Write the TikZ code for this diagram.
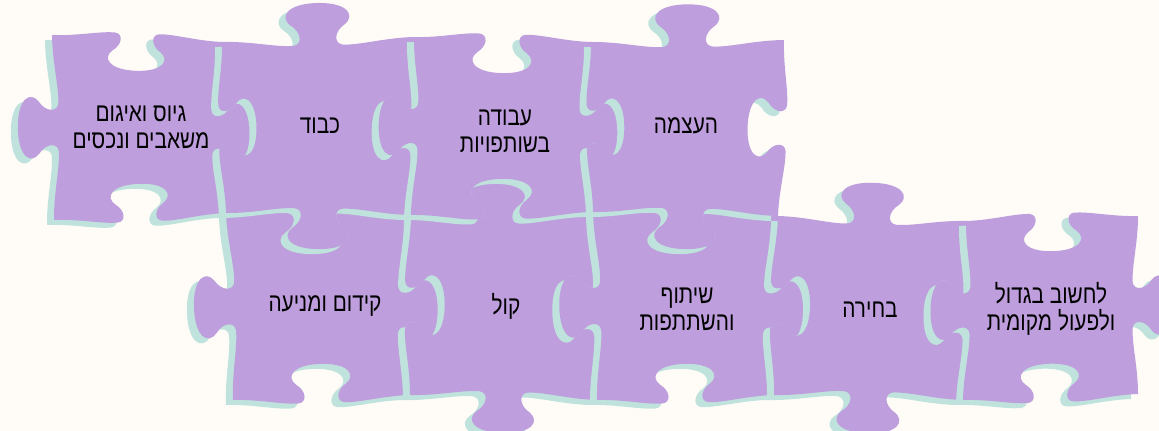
\documentclass[tikz,border=0pt]{standalone}
\usepackage{fontspec}
\newfontfamily\hebfont[Script=Hebrew,FakeStretch=0.8]{Liberation Sans}
\TeXXeTstate=1
\definecolor{bgc}{HTML}{FFFCF7}
\definecolor{piecec}{HTML}{BE9EDC}
\definecolor{shadowc}{HTML}{BFE3DC}
% point on an edge P=(#1,#2) -> Q=(#3,#4), sign #5, along #6, outward #7
\newcommand\JQ[7]{({#1+(#6)*(#3-#1)+(#7)*(#5)*(#4-#2)},{#2+(#6)*(#4-#2)-(#7)*(#5)*(#3-#1)})}
\newcommand\JE[5]{ .. controls \JQ{#1}{#2}{#3}{#4}{#5}{0.15}{0} and \JQ{#1}{#2}{#3}{#4}{#5}{0.28}{-0.035} .. \JQ{#1}{#2}{#3}{#4}{#5}{0.37}{-0.03}
 .. controls \JQ{#1}{#2}{#3}{#4}{#5}{0.42}{-0.025} and \JQ{#1}{#2}{#3}{#4}{#5}{0.415}{0.04} .. \JQ{#1}{#2}{#3}{#4}{#5}{0.36}{0.075}
 .. controls \JQ{#1}{#2}{#3}{#4}{#5}{0.30}{0.12} and \JQ{#1}{#2}{#3}{#4}{#5}{0.34}{0.19} .. \JQ{#1}{#2}{#3}{#4}{#5}{0.5}{0.19}
 .. controls \JQ{#1}{#2}{#3}{#4}{#5}{0.66}{0.19} and \JQ{#1}{#2}{#3}{#4}{#5}{0.70}{0.12} .. \JQ{#1}{#2}{#3}{#4}{#5}{0.64}{0.075}
 .. controls \JQ{#1}{#2}{#3}{#4}{#5}{0.585}{0.04} and \JQ{#1}{#2}{#3}{#4}{#5}{0.58}{-0.025} .. \JQ{#1}{#2}{#3}{#4}{#5}{0.63}{-0.03}
 .. controls \JQ{#1}{#2}{#3}{#4}{#5}{0.72}{-0.035} and \JQ{#1}{#2}{#3}{#4}{#5}{0.85}{0} .. (#3,#4)}
% piece: TL=(#1,#2) TR=(#3,#4) BR=(#5,#6) BL=(#7,#8), #9 = four signs top/right/bottom/left
\newcommand\mkpiece[9]{\mkpieceB{#1}{#2}{#3}{#4}{#5}{#6}{#7}{#8}#9}
\newcommand\mkpieceB[9]{\mkpieceC{#1}{#2}{#3}{#4}{#5}{#6}{#7}{#8}{#9}}
\newcommand\mkpieceC[9]{\def\jA{#1}\def\jB{#2}\def\jC{#3}\def\jD{#4}\def\jE{#5}\def\jF{#6}\def\jG{#7}\def\jH{#8}\def\jsT{#9}\mkpieceD}
\newcommand\mkpieceD[3]{%
 \edef\jpath{(\jA,\jB) \JE{\jA}{\jB}{\jC}{\jD}{\jsT} \JE{\jC}{\jD}{\jE}{\jF}{#1} \JE{\jE}{\jF}{\jG}{\jH}{#2} \JE{\jG}{\jH}{\jA}{\jB}{#3} -- cycle}%
 \fill[shadowc,shift={(-7,5)}] \jpath;
 \fill[piecec] \jpath;}
\tikzset{lbl/.style={font=\hebfont\fontsize{13}{13.5}\selectfont, align=center, text=black, inner sep=0pt}}
\begin{document}
\begin{tikzpicture}[x=0.5pt,y=-0.5pt]
\useasboundingbox (0,0) rectangle (1159,431);
\fill[bgc] (0,0) rectangle (1159,431);
\clip (0,0) rectangle (1159,431);
% bottom row
\mkpiece{226}{213}{411}{215}{410}{395}{233}{400}{{-1}{1}{-1}{1}}
\mkpiece{411}{215}{593}{212}{597}{400}{410}{395}{{1}{-1}{1}{-1}}
\mkpiece{593}{212}{778}{216}{774}{395}{597}{400}{{-1}{1}{-1}{1}}
\mkpiece{778}{216}{966}{221}{963}{400}{774}{395}{{1}{-1}{1}{-1}}
\mkpiece{966}{221}{1138}{216}{1138}{394}{963}{400}{{-1}{1}{-1}{1}}
% top row
\mkpiece{52}{35}{222}{42}{226}{213}{54}{220}{{-1}{1}{-1}{1}}
\mkpiece{222}{42}{414}{37}{411}{215}{226}{213}{{1}{-1}{1}{-1}}
\mkpiece{414}{37}{591}{42}{593}{212}{411}{215}{{-1}{1}{-1}{1}}
\mkpiece{591}{42}{784}{40}{778}{216}{593}{212}{{1}{-1}{1}{-1}}
% labels
\node[lbl] (a) at (141,127) {\beginR גיוס ואיגום\endR\\\beginR משאבים ונכסים\endR};
\node[lbl] (b) at (320,126) {\beginR כבוד\endR};
\node[lbl] (c) at (505,131) {\beginR עבודה\endR\\\beginR בשותפויות\endR};
\node[lbl] (d) at (686,126) {\beginR העצמה\endR};
\node[lbl] (e) at (325,306) {\beginR קידום ומניעה\endR};
\node[lbl] (f) at (506,306) {\beginR קול\endR};
\node[lbl] (g) at (687,309) {\beginR שיתוף\endR\\\beginR והשתתפות\endR};
\node[lbl] (h) at (870,310) {\beginR בחירה\endR};
\node[lbl] (i) at (1051,309) {\beginR לחשוב בגדול\endR\\\beginR ולפעול מקומית\endR};
\end{tikzpicture}
\end{document}
